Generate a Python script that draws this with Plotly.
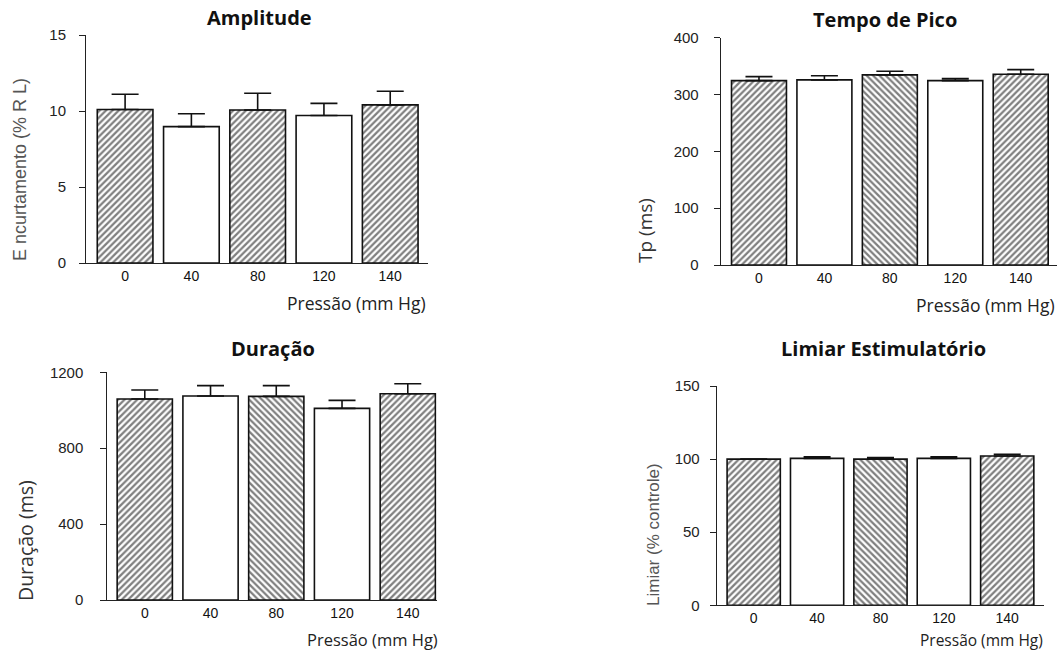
import plotly.graph_objects as go

categories = ["0", "40", "80", "120", "140"]
patterns_amp = ["/", "", "/", "", "/"]
patterns = ["/", "", "\\", "", "/"]

amp_mean = [10.1, 8.97, 10.07, 9.7, 10.4]
amp_err = [1.0, 0.85, 1.1, 0.8, 0.9]

tp_mean = [324.5, 325.7, 334.5, 324.4, 335.7]
tp_err = [7.0, 7.3, 6.5, 3.6, 8.1]

dur_mean = [1059, 1075, 1073, 1010, 1087]
dur_err = [48, 55, 57, 42, 53]

lim_mean = [100.0, 100.5, 100.0, 100.5, 102.1]
lim_err = [0.0, 1.1, 1.0, 1.1, 1.2]

W, H = 1058, 650

panels = [
    dict(mean=amp_mean, err=amp_err, pat=patterns_amp, title="Amplitude",
         ylabel="E ncurtamento (% R L)",
         xd=[86, 428], yd=[263, 35],
         xr=[-0.59, 4.57], yr=[0, 15], tick=[0, 5, 10, 15], so=10,
         tpos=(259, 17), ypos=(20, 170), ylf=("Liberation Sans", 18, "#555"),
         ppos=(428, 303), ps=17.5),
    dict(mean=tp_mean, err=tp_err, pat=patterns, title="Tempo de Pico", ylabel="Tp (ms)",
         xd=[720.7, 1056.7], yd=[265, 37.7],
         xr=[-0.585, 4.55], yr=[0, 400], tick=[0, 100, 200, 300, 400], so=12,
         tpos=(885, 19), ypos=(645, 231), ylf=("Open Sans", 19, "#333"),
         ppos=(1057, 305), ps=17.5),
    dict(mean=dur_mean, err=dur_err, pat=patterns, title="Duração", ylabel="Duração (ms)",
         xd=[107.3, 436.7], yd=[600, 372.3],
         xr=[-0.57, 4.44], yr=[0, 1200], tick=[0, 400, 800, 1200], so=14,
         tpos=(273, 348), ypos=(25, 541), ylf=("Open Sans", 19.5, "#333"),
         ppos=(440, 639), ps=16.5),
    dict(mean=lim_mean, err=lim_err, pat=patterns, title="Limiar Estimulatório",
         ylabel="Limiar (% controle)",
         xd=[716.7, 1044.3], yd=[605.3, 386],
         xr=[-0.584, 4.585], yr=[0, 150], tick=[0, 50, 100, 150], so=7,
         tpos=(883, 348), ypos=(653, 535), ylf=("Liberation Sans", 17, "#555"),
         ppos=(1045, 640), ps=15.5),
]

fig = go.Figure()
annotations = []
for i, p in enumerate(panels, start=1):
    sfx = "" if i == 1 else str(i)
    fig.add_trace(go.Bar(
        x=categories, y=p["mean"], width=0.84,
        xaxis="x" + sfx, yaxis="y" + sfx, showlegend=False, hoverinfo="skip",
        marker=dict(color="white", line=dict(color="#111", width=1.6),
                    pattern=dict(shape=p["pat"], fgcolor="#000000", bgcolor="white",
                                 size=4.5, solidity=0.5)),
        error_y=dict(type="data", symmetric=False, array=p["err"],
                     arrayminus=[0]*5, color="#111", thickness=1.6, width=13.5),
    ))
    fig.layout["xaxis" + sfx] = dict(
        domain=[p["xd"][0]/W, p["xd"][1]/W], anchor="y" + sfx, type="category",
        range=p["xr"], automargin=False,
        showline=True, linecolor="#222", linewidth=1, ticks="", showgrid=False,
        zeroline=False, tickfont=dict(family="Liberation Sans", size=14, color="#111"),
        fixedrange=True)
    fig.layout["yaxis" + sfx] = dict(
        domain=[1 - p["yd"][0]/H, 1 - p["yd"][1]/H], anchor="x" + sfx,
        range=p["yr"], tickvals=p["tick"], automargin=False, fixedrange=True,
        showline=True, linecolor="#222", linewidth=1, ticks="outside", ticklen=6,
        tickcolor="#222", showgrid=False, zeroline=False, ticklabelstandoff=p["so"],
        tickfont=dict(family="Liberation Sans", size=15, color="#222"))
    annotations.append(dict(
        text="<b>" + p["title"] + "</b>", xref="paper", yref="paper",
        x=p["tpos"][0]/W, y=1 - p["tpos"][1]/H, xanchor="center", yanchor="middle",
        showarrow=False, font=dict(family="Open Sans", size=20, color="#111")))
    annotations.append(dict(
        text=p["ylabel"], xref="paper", yref="paper", textangle=-90,
        x=p["ypos"][0]/W, y=1 - p["ypos"][1]/H, xanchor="center", yanchor="middle",
        showarrow=False, font=dict(family=p["ylf"][0], size=p["ylf"][1], color=p["ylf"][2])))
    annotations.append(dict(
        text="Pressão (mm Hg)", xref="paper", yref="paper",
        x=p["ppos"][0]/W, y=1 - p["ppos"][1]/H, xanchor="right", yanchor="middle",
        showarrow=False, font=dict(family="Open Sans", size=p["ps"], color="#222")))

fig.update_layout(width=W, height=H, margin=dict(l=0, r=0, t=0, b=0, autoexpand=False),
                  paper_bgcolor="white", plot_bgcolor="white",
                  annotations=annotations, bargap=0.16)
fig.write_html("out.html", config={"displayModeBar": False},
               post_script="document.body.style.margin='0px';")
